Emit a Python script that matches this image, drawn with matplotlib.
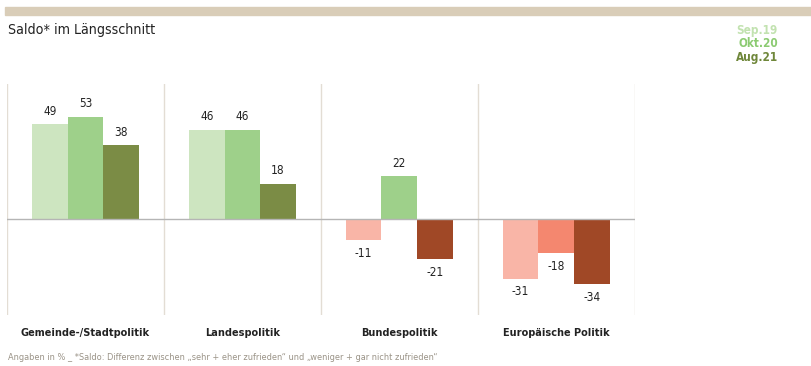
import matplotlib.pyplot as plt
import numpy as np
from matplotlib.patches import Rectangle

plt.rcParams['font.family'] = ['DejaVu Sans']
plt.rcParams['font.stretch'] = 'condensed'

categories = ['Gemeinde-/Stadtpolitik', 'Landespolitik', 'Bundespolitik', 'Europäische Politik']
periods = ['Sep.19', 'Okt.20', 'Aug.21']
sep19 = [49, 46, -11, -31]
okt20 = [53, 46, 22, -18]
aug21 = [38, 18, -21, -34]

pos_colors = ['#cde5c0', '#9ed08a', '#7b8c45']
neg_colors = ['#f9b5a7', '#f4876f', '#a04826']
legend_colors = ['#c2e2b0', '#8ccb72', '#6f873a']

fig = plt.figure(figsize=(8.11, 3.66), dpi=100)

# top decorative band
fig.patches.append(Rectangle((0.006, 0.958), 0.994, 0.022, transform=fig.transFigure,
                             color='#d9cdb8', zorder=0))
fig.text(0.010, 0.918, 'Saldo* im Längsschnitt', fontsize=10.2, color='#222222', va='center')
for i, (p, c) in enumerate(zip(periods, legend_colors)):
    fig.text(0.959, 0.918 - i * 0.038, p, fontsize=8.5, fontweight='bold', color=c,
             ha='right', va='center')

ax = fig.add_axes([0.0086, 0.139, 0.774, 0.632])
x = np.arange(len(categories))
width = 0.227
series = [sep19, okt20, aug21]

for i, vals in enumerate(series):
    xs = x + (i - 1) * width
    cols = [pos_colors[i] if v >= 0 else neg_colors[i] for v in vals]
    ax.bar(xs, vals, width, color=cols, zorder=2)
    for xi, v in zip(xs, vals):
        if v >= 0:
            ax.text(xi, v + 3.5, str(v), ha='center', va='bottom', fontsize=8.5, color='#222222')
        else:
            ax.text(xi, v - 3.5, str(v), ha='center', va='top', fontsize=8.5, color='#222222')

ax.axhline(0, color='#b5b5b5', lw=1, zorder=3)
for b in np.arange(-0.5, len(categories), 1):
    ax.axvline(b, color='#e3ddd4', lw=1, zorder=1)

ax.set_xlim(-0.5, len(categories) - 0.5)
ax.set_ylim(-50, 70)
ax.set_yticks([])
ax.set_xticks(x)
ax.set_xticklabels(categories, fontsize=7.8, fontweight='bold', color='#222222')
ax.tick_params(axis='x', length=0, pad=9)
for s in ax.spines.values():
    s.set_visible(False)

fig.text(0.010, 0.022, 'Angaben in % _ *Saldo: Differenz zwischen „sehr + eher zufrieden“ und „weniger + gar nicht zufrieden“',
         fontsize=6.6, color='#9a9387', va='center')

fig.savefig('out.png', dpi=100)
